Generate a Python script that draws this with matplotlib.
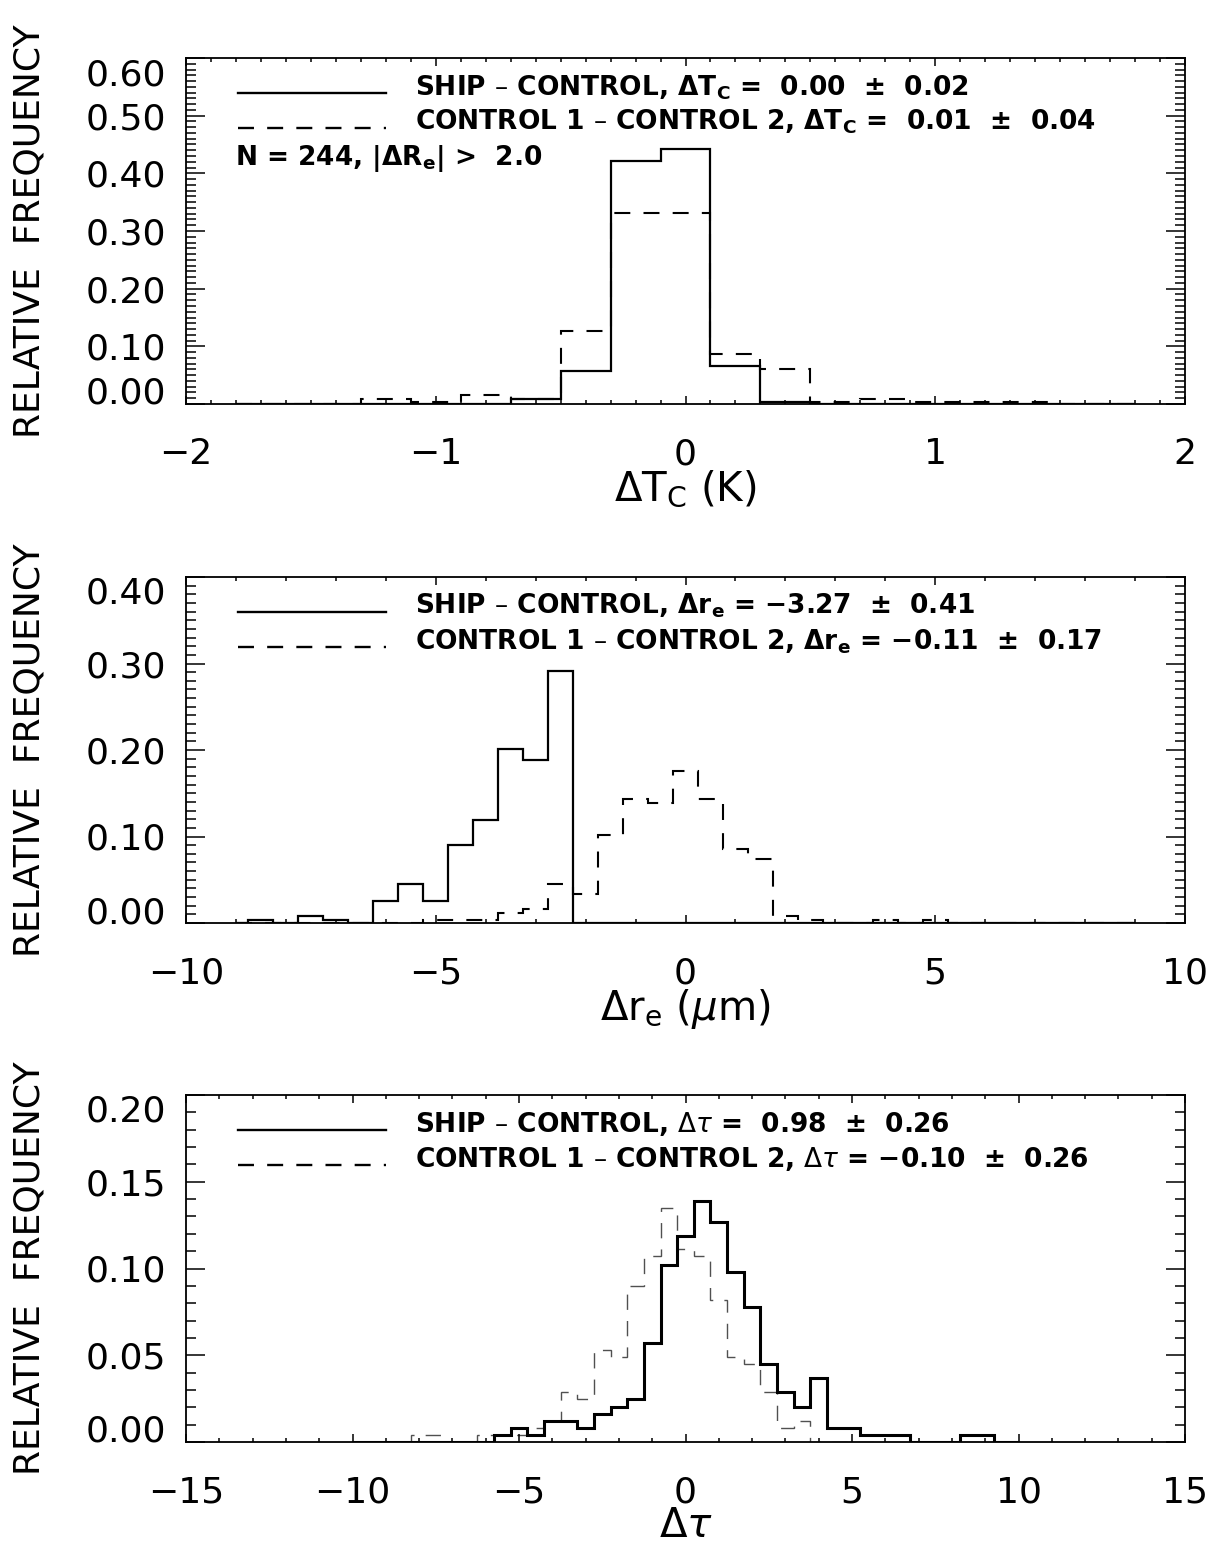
"""
Ship track histograms: cloud top temperature, droplet radius and optical depth differences.
"""

import numpy as np
import matplotlib
matplotlib.use("Agg")
import matplotlib.pyplot as plt
from matplotlib.ticker import MultipleLocator, FormatStrFormatter, FuncFormatter

W, H = 1214, 1560

plt.rcParams["font.family"] = ["DejaVu Sans"]
plt.rcParams["mathtext.fontset"] = "dejavusans"
plt.rcParams["lines.scale_dashes"] = False

# ---- panel 1: delta Tc, bins of 0.2 K
tc_centers = np.round(np.arange(-1.8, 1.8001, 0.2), 2)
tc_ship = [0, 0, 0, 0, 0, 0, 0.008, 0.057, 0.422, 0.443, 0.066, 0.004,
           0, 0, 0, 0, 0, 0, 0]
tc_ctrl = [0, 0, 0, 0.008, 0.004, 0.016, 0.008, 0.127, 0.332, 0.332, 0.086,
           0.061, 0.004, 0.008, 0.004, 0.004, 0.004, 0, 0]

# ---- panel 2: delta re, bins of 0.5 um
re_centers = np.round(np.arange(-9.0, 9.001, 0.5), 2)
re_ship = [0, 0.004, 0, 0.008, 0.004, 0, 0.025, 0.045, 0.025, 0.090, 0.119,
           0.201, 0.189, 0.291,
           0, 0, 0, 0, 0, 0, 0, 0, 0, 0, 0, 0, 0, 0, 0, 0, 0, 0, 0, 0, 0, 0, 0]
re_ctrl = [0, 0, 0, 0, 0, 0, 0, 0,
           0.004, 0.004, 0.004, 0.012, 0.016, 0.045, 0.033, 0.102, 0.143,
           0.139, 0.176, 0.143, 0.086, 0.074, 0.008, 0.004, 0, 0, 0.004, 0,
           0.004,
           0, 0, 0, 0, 0, 0, 0, 0]

# ---- panel 3: delta tau, bins of 0.5
tau_centers = np.round(np.arange(-10.0, 10.001, 0.5), 2)
tau_ship = [0, 0, 0, 0, 0, 0, 0, 0, 0,
            0.004, 0.008, 0.004, 0.012, 0.012, 0.008, 0.016, 0.020, 0.025,
            0.057, 0.102, 0.119, 0.139, 0.127, 0.098, 0.078, 0.045, 0.029,
            0.020, 0.037, 0.008, 0.008, 0.004, 0.004, 0.004,
            0, 0, 0, 0.004, 0.004, 0, 0]
tau_ctrl = [0, 0, 0, 0,
            0.004, 0.004, 0, 0, 0.004, 0.004, 0.004, 0.008, 0.012, 0.029,
            0.025, 0.053, 0.049, 0.090, 0.107, 0.135, 0.111, 0.107, 0.082,
            0.049, 0.045, 0.029, 0.008, 0.012,
            0, 0, 0, 0, 0, 0, 0, 0, 0, 0, 0, 0, 0]

leg_tc = [r"SHIP – CONTROL, $\mathregular{\Delta T_C}$ =  0.00  ±  0.02",
          r"CONTROL 1 – CONTROL 2, $\mathregular{\Delta T_C}$ =  0.01  ±  0.04"]
leg_re = [r"SHIP – CONTROL, $\mathregular{\Delta r_e}$ = −3.27  ±  0.41",
          r"CONTROL 1 – CONTROL 2, $\mathregular{\Delta r_e}$ = −0.11  ±  0.17"]
leg_tau = [r"SHIP – CONTROL, $\Delta\tau$ =  0.98  ±  0.26",
           r"CONTROL 1 – CONTROL 2, $\Delta\tau$ = −0.10  ±  0.26"]
n_text = r"N = 244, $\mathregular{|\Delta R_e|}$ >  2.0"

LEG_FS = 19


def bin_edges(centers, width):
    edges = np.append(centers - width / 2, centers[-1] + width / 2)
    # IDL psym=10 style: first and last bins are half width
    edges[0], edges[-1] = centers[0], centers[-1]
    return edges


def px_axes(ax, dx, dy):
    # pixel offset from the axes' top-left corner -> axes fraction
    pos = ax.get_position()
    return dx / (pos.width * W), 1 - dy / (pos.height * H)


def make_axes(fig, left, top, right, bottom):
    return fig.add_axes([left / W, 1 - bottom / H, (right - left) / W, (bottom - top) / H])


def style_axes(ax, xlim, xmaj, xmin, ylim, ymaj, ymin):
    ax.set_xlim(*xlim)
    ax.set_ylim(*ylim)
    ax.xaxis.set_major_locator(MultipleLocator(xmaj))
    ax.xaxis.set_minor_locator(MultipleLocator(xmin))
    ax.yaxis.set_major_locator(MultipleLocator(ymaj))
    ax.yaxis.set_minor_locator(MultipleLocator(ymin))
    ax.xaxis.set_major_formatter(FuncFormatter(lambda v, p: f"{v:.0f}".replace("-", "\u2212")))
    ax.yaxis.set_major_formatter(FormatStrFormatter("%.2f"))
    for s in ax.spines.values():
        s.set_linewidth(1.3)
    ax.tick_params(axis="both", which="both", direction="in", top=True, right=True, width=1.1)
    ax.tick_params(axis="x", which="major", length=5.5, pad=24, labelsize=26)
    ax.tick_params(axis="x", which="minor", length=2.8)
    ax.tick_params(axis="y", which="major", length=14, pad=14, labelsize=26)
    ax.tick_params(axis="y", which="minor", length=7)


def draw_legend(ax, labels):
    for i, lab in enumerate(labels):
        x0, y = px_axes(ax, 52, 35 + 35 * i)
        x1, _ = px_axes(ax, 200, 0)
        style = dict(color="black", lw=1.7)
        if i == 1:
            style["dashes"] = (11.5, 9.5)
        ax.plot([x0, x1], [y, y], transform=ax.transAxes, clip_on=False, **style)
        tx, ty = px_axes(ax, 229, 37 + 35 * i)
        ax.text(tx, ty, lab, transform=ax.transAxes, fontsize=LEG_FS,
                fontweight="bold", ha="left", va="baseline")


fig = plt.figure(figsize=(W / 100, H / 100), dpi=100)

panels = [
    dict(box=(186, 58, 1185, 404), centers=tc_centers, width=0.2, ship=tc_ship, ctrl=tc_ctrl,
         xlim=(-2, 2), xmaj=1, xmin=0.1, ylim=(0, 0.6), ymaj=0.1, ymin=0.01,
         xlabel=r"$\mathregular{\Delta T_C}$ (K)", legend=leg_tc,
         ship_lw=1.6, ctrl_style=dict(color="black", lw=1.5, linestyle=(0, (11.5, 9.5)))),
    dict(box=(186, 577, 1185, 923), centers=re_centers, width=0.5, ship=re_ship, ctrl=re_ctrl,
         xlim=(-10, 10), xmaj=5, xmin=1, ylim=(0, 0.4), ymaj=0.1, ymin=0.01,
         xlabel=r"$\mathregular{\Delta r_e}$ ($\mu$m)", legend=leg_re,
         ship_lw=1.6, ctrl_style=dict(color="black", lw=1.5, linestyle=(0, (11.5, 9.5)))),
    dict(box=(186, 1095, 1185, 1442), centers=tau_centers, width=0.5, ship=tau_ship, ctrl=tau_ctrl,
         xlim=(-15, 15), xmaj=5, xmin=1, ylim=(0, 0.2), ymaj=0.05, ymin=0.01,
         xlabel=r"$\Delta\tau$", legend=leg_tau,
         ship_lw=2.2, ctrl_style=dict(color="#505050", lw=1.0, linestyle=(0, (11, 8)))),
]

axes = []
for p in panels:
    ax = make_axes(fig, *p["box"])
    edges = bin_edges(p["centers"], p["width"])
    ax.stairs(p["ctrl"], edges, baseline=None, **p["ctrl_style"])
    ax.stairs(p["ship"], edges, baseline=None, color="black", lw=p["ship_lw"])
    style_axes(ax, p["xlim"], p["xmaj"], p["xmin"], p["ylim"], p["ymaj"], p["ymin"])
    draw_legend(ax, p["legend"])

    # x label below the tick labels
    ax.set_xlabel(p["xlabel"], fontsize=29)
    ax.xaxis.set_label_coords(0.5, -64 / (p["box"][3] - p["box"][1]))
    ax.xaxis.label.set_va("top")

    top, bottom = p["box"][1], p["box"][3]
    fig.text(30 / W, 1 - (top + bottom) / 2 / H, "RELATIVE  FREQUENCY",
             rotation=90, ha="center", va="center", fontsize=26)
    axes.append(ax)

nx_, ny_ = px_axes(axes[0], 49, 107)
axes[0].text(nx_, ny_, n_text, transform=axes[0].transAxes, fontsize=LEG_FS,
             fontweight="bold", ha="left", va="baseline")

# keep the end tick labels inside the frame, as IDL does
fig.canvas.draw()
for ax in axes:
    y0, y1 = ax.get_ylim()
    for tick in ax.yaxis.get_major_ticks():
        loc = tick.get_loc()
        if np.isclose(loc, y0):
            tick.label1.set_va("baseline")
        elif np.isclose(loc, y1):
            tick.label1.set_va("top")

fig.savefig("out.png", dpi=100)
